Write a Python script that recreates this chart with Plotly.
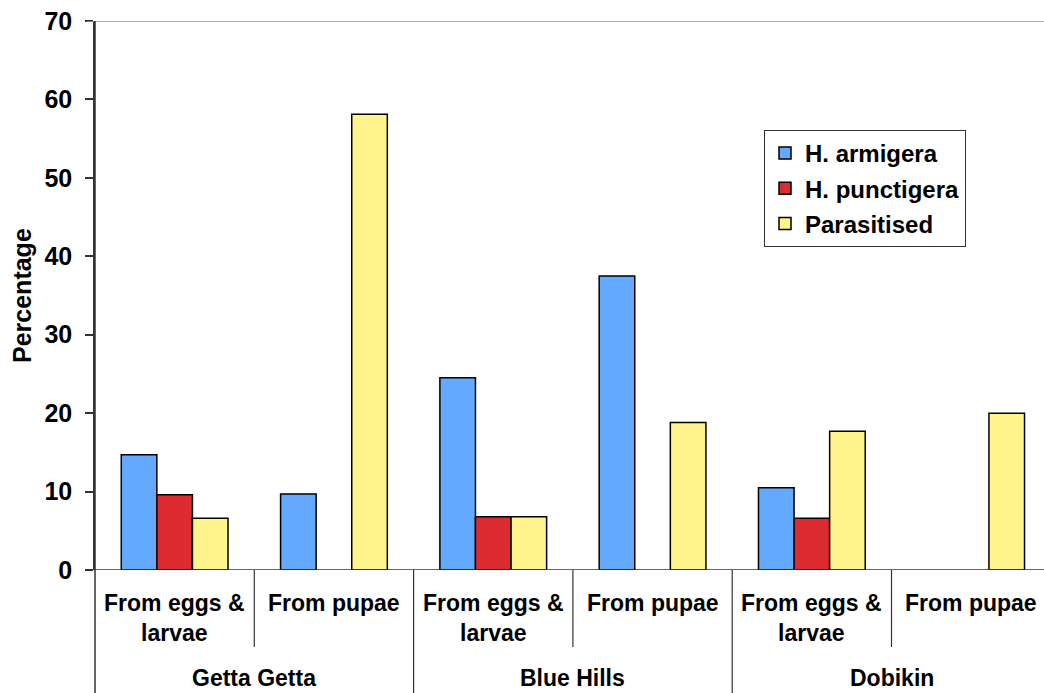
import plotly.graph_objects as go

# Sites and sampling stages (two stages per site)
sites = ["Getta Getta", "Blue Hills", "Dobikin"]
stages = ["From eggs &<br>larvae", "From pupae"]

# Percentages per series, in order: site x stage
armigera = [14.7, 9.7, 24.5, 37.5, 10.5, None]
punctigera = [9.6, None, 6.8, None, 6.6, None]
parasitised = [6.6, 58.1, 6.8, 18.8, 17.7, 20.0]

series_names = ["H. armigera", "H. punctigera", "Parasitised"]
series_colors = ["#63A9FF", "#DD2B32", "#FFF48C"]
series_values = [armigera, punctigera, parasitised]

positions = list(range(len(sites) * len(stages)))

FONT = "Liberation Sans, Arial, sans-serif"
W, H = 1044, 693
ML, MT, MB = 95, 21, 123
plot_w = W - ML
plot_h = H - MT - MB
cat_px = 159.3  # pixel width of one stage slot

fig = go.Figure()
for name, color, vals in zip(series_names, series_colors, series_values):
    fig.add_trace(go.Bar(
        x=positions, y=vals, name="<b>%s</b>" % name, legendgroup=name,
        marker=dict(color=color, line=dict(color="#000000", width=1.5)),
    ))

x_max = -0.5 + plot_w / cat_px

def py(px):
    """Pixel row (from top of page) to paper y."""
    return (H - MB - px) / plot_h

def px_x(px):
    return (px - ML) / plot_w

shapes = []
# top border of plot area
shapes.append(dict(type="line", xref="paper", yref="y", x0=px_x(87), x1=1, y0=70, y1=70,
                   line=dict(color="#999999", width=1.5)))
# left axis line continued down through the category area
shapes.append(dict(type="line", xref="paper", yref="paper", x0=0, x1=0, y0=1, y1=py(H),
                   line=dict(color="#333333", width=1.5)))
# dividers: short between stages, long between sites
for i in range(1, len(positions)):
    xb = i - 0.5
    long_div = (i % len(stages) == 0)
    shapes.append(dict(type="line", xref="x", yref="paper", x0=xb, x1=xb,
                       y0=0, y1=py(H) if long_div else py(647),
                       line=dict(color="#333333", width=1.2)))
# zero line reaching left over the tick, like the top border
shapes.append(dict(type="line", xref="paper", yref="y", x0=px_x(87), x1=1, y0=0, y1=0,
                   line=dict(color="#333333", width=1.5)))

annotations = []
for i, p in enumerate(positions):
    annotations.append(dict(
        x=p, y=py(588), xref="x", yref="paper", text="<b>%s</b>" % stages[i % len(stages)],
        showarrow=False, xanchor="center", yanchor="top",
        font=dict(family=FONT, size=23, color="#000000")))
for j, s in enumerate(sites):
    annotations.append(dict(
        x=j * len(stages) + 0.5, y=py(678), xref="x", yref="paper", text="<b>%s</b>" % s,
        showarrow=False, xanchor="center", yanchor="middle",
        font=dict(family=FONT, size=23, color="#000000")))
annotations.append(dict(
    x=px_x(22), y=py(296), xref="paper", yref="paper", text="<b>Percentage</b>",
    showarrow=False, textangle=-90, xanchor="center", yanchor="middle",
    font=dict(family=FONT, size=25, color="#000000")))

fig.update_layout(
    width=W, height=H,
    margin=dict(l=ML, r=0, t=MT, b=MB, pad=0),
    paper_bgcolor="#ffffff", plot_bgcolor="#ffffff",
    barmode="group", bargap=0.33, bargroupgap=0,
    font=dict(family=FONT, color="#000000"),
    xaxis=dict(range=[-0.5, x_max], showticklabels=False, showgrid=False, zeroline=False,
               showline=False, ticks="", fixedrange=True),
    yaxis=dict(range=[0, 70], dtick=10, showgrid=False, zeroline=False,
               showline=True, linecolor="#333333", linewidth=1.5,
               ticks="outside", ticklen=8, tickcolor="#333333", tickwidth=1.5,
               ticklabelstandoff=8,
               tickfont=dict(family=FONT, size=25, color="#000000"),
               tickprefix="<b>", ticksuffix="</b>"),
    legend=dict(x=px_x(764), y=py(130), xanchor="left", yanchor="top",
                bordercolor="#333333", borderwidth=1, bgcolor="#ffffff",
                font=dict(family=FONT, size=24, color="#000000"),
                itemwidth=30, tracegroupgap=1),
    showlegend=True,
    shapes=shapes, annotations=annotations,
)

fig.write_html("out.html")
